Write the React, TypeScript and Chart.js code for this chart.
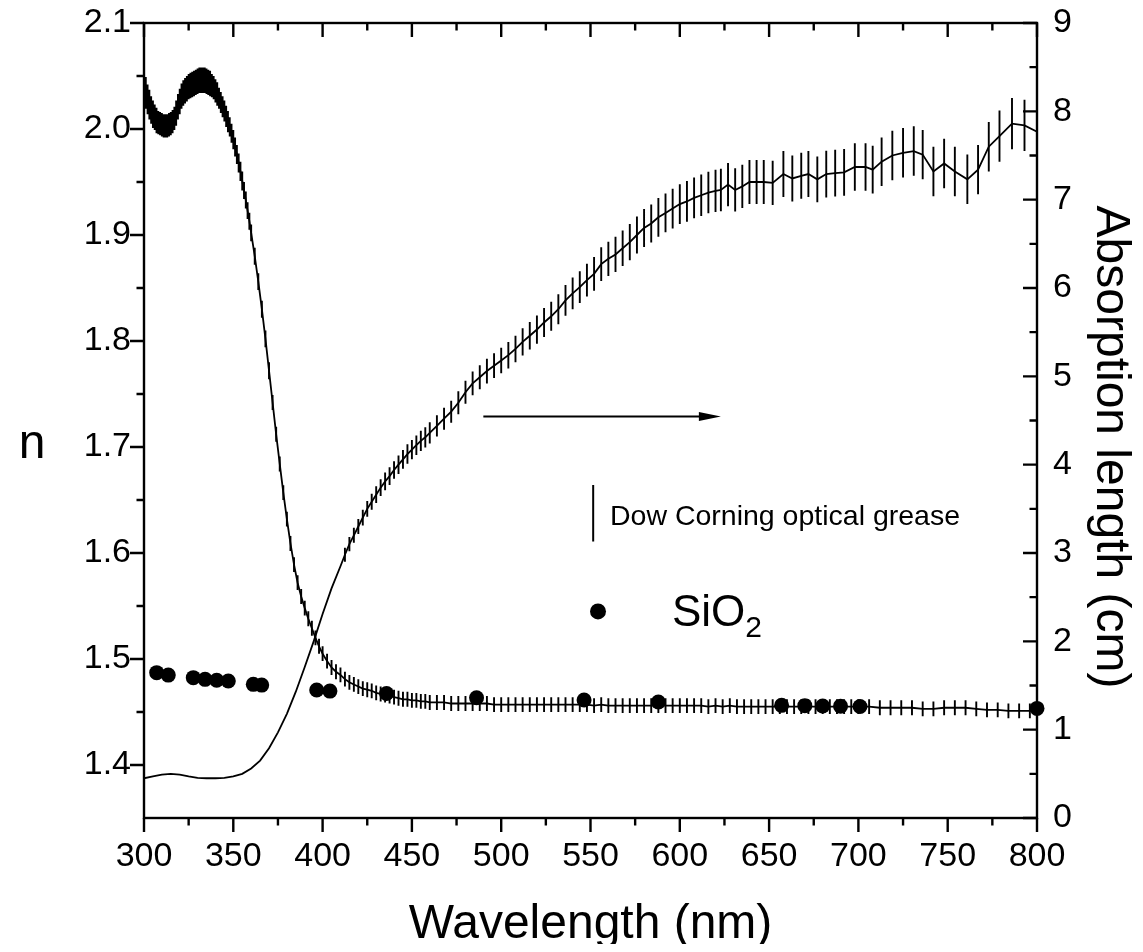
import React, { useEffect, useRef } from "react";
import { Chart, registerables } from "chart.js";

Chart.register(...registerables);

const FONT = "'Liberation Sans', Arial, Helvetica, sans-serif";

// ---------- axis ticks ----------
const xTickValues = [300, 350, 400, 450, 500, 550, 600, 650, 700, 750, 800];
const xMinorTicks = [325, 375, 425, 475, 525, 575, 625, 675, 725, 775];
const nTickValues = [1.4, 1.5, 1.6, 1.7, 1.8, 1.9, 2.0, 2.1];
const nMinorTicks = [1.45, 1.55, 1.65, 1.75, 1.85, 1.95, 2.05];
const absTickValues = [0, 1, 2, 3, 4, 5, 6, 7, 8, 9];
const absMinorTicks = [0.5, 1.5, 2.5, 3.5, 4.5, 5.5, 6.5, 7.5, 8.5];

// ---------- Dow Corning optical grease: refractive index n (left axis) ----------
const greaseNWavelength = [
  300, 301, 302, 303, 304, 305, 306, 307, 308, 309, 310, 311, 312, 313, 314, 315, 316, 317, 318, 319,
  320, 321, 322, 323, 324, 325, 326, 327, 328, 329, 330, 331, 332, 333, 334, 335, 336, 337, 338, 339,
  340, 341, 342, 343, 344, 345, 346, 347, 348, 349, 350, 351, 352, 353, 354, 355, 356, 357, 358, 359, 360,
  362, 364, 366, 368, 370, 372, 374, 376, 378, 380, 382, 384, 386, 388, 390, 392, 394, 396, 398, 400,
  402.5, 405, 407.5, 410, 412.5, 415, 417.5, 420, 422.5, 425, 427.5, 430, 432.5, 435, 437.5, 440, 442.5, 445, 447.5, 450,
  452.5, 455, 457.5, 460,
  464, 468, 472, 476, 480, 484, 488, 492, 496, 500, 504, 508, 512, 516, 520, 524, 528, 532, 536, 540,
  544, 548, 552, 556, 560, 564, 568, 572, 576, 580, 584, 588, 592, 596, 600, 604, 608, 612, 616, 620,
  624, 628, 632, 636, 640, 644, 648, 652, 656, 660, 664, 668, 672, 676, 680, 684, 688, 692, 696, 700,
  706, 712, 718, 724, 730, 736, 742, 748, 754, 760, 766, 772, 778, 784, 790, 796, 800,
];
const greaseN = [
  2.040, 2.034, 2.028, 2.023, 2.018, 2.014, 2.011, 2.008, 2.006, 2.005, 2.004, 2.003, 2.003, 2.003, 2.004, 2.005, 2.007, 2.010, 2.015, 2.021,
  2.026, 2.031, 2.034, 2.036, 2.038, 2.040, 2.041, 2.042, 2.043, 2.044, 2.045, 2.046, 2.046, 2.046, 2.046, 2.045, 2.044, 2.043, 2.041, 2.039,
  2.036, 2.033, 2.029, 2.025, 2.021, 2.017, 2.012, 2.007, 2.002, 1.996, 1.990, 1.983, 1.976, 1.968, 1.960, 1.951, 1.942, 1.933, 1.923, 1.913, 1.902,
  1.880, 1.856, 1.830, 1.802, 1.772, 1.742, 1.712, 1.684, 1.657, 1.632, 1.609, 1.589, 1.572, 1.559, 1.548, 1.538, 1.529, 1.520, 1.512, 1.505,
  1.498, 1.492, 1.488, 1.485, 1.481, 1.478, 1.476, 1.474, 1.472, 1.471, 1.470, 1.468, 1.467, 1.466, 1.465, 1.464, 1.463, 1.462, 1.462, 1.461,
  1.461, 1.460, 1.460, 1.459,
  1.459, 1.459, 1.458, 1.458, 1.458, 1.458, 1.458, 1.458, 1.457, 1.457, 1.457, 1.457, 1.457, 1.457, 1.457, 1.457, 1.457, 1.457, 1.457, 1.457,
  1.457, 1.457, 1.456, 1.457, 1.456, 1.456, 1.456, 1.456, 1.456, 1.456, 1.456, 1.456, 1.456, 1.456, 1.456, 1.456, 1.456, 1.456, 1.455, 1.456,
  1.455, 1.456, 1.455, 1.455, 1.455, 1.455, 1.455, 1.455, 1.455, 1.455, 1.455, 1.455, 1.455, 1.455, 1.455, 1.455, 1.455, 1.455, 1.455, 1.455,
  1.455, 1.454, 1.454, 1.454, 1.454, 1.453, 1.453, 1.454, 1.454, 1.454, 1.453, 1.452, 1.452, 1.451, 1.451, 1.451, 1.452,
];
const greaseNErr = [
  0.015, 0.015, 0.014, 0.014, 0.013, 0.013, 0.012, 0.012, 0.011,
  0.011, 0.011, 0.011, 0.011, 0.011, 0.011, 0.011, 0.011, 0.011,
  0.012, 0.012, 0.012, 0.012, 0.012, 0.012, 0.012, 0.012, 0.012, 0.012, 0.012, 0.012, 0.012, 0.012, 0.012, 0.012, 0.012, 0.012, 0.012, 0.012,
  0.011, 0.011, 0.011, 0.011,
  0.010, 0.010, 0.010, 0.010, 0.010, 0.010,
  0.009, 0.009, 0.009, 0.009, 0.009, 0.009, 0.009, 0.009,
  0.008, 0.008, 0.008, 0.008, 0.008,
  0.008, 0.008, 0.008, 0.008, 0.008, 0.007, 0.007, 0.007, 0.007, 0.007, 0.007, 0.007, 0.007, 0.007, 0.007, 0.007, 0.007, 0.007, 0.007, 0.007,
  0.007, 0.007, 0.007, 0.007, 0.007, 0.007, 0.007, 0.007, 0.007, 0.007, 0.007, 0.007, 0.007, 0.007, 0.007, 0.007, 0.007, 0.007, 0.007, 0.007,
  0.007, 0.007, 0.007, 0.007,
  0.007, 0.007, 0.007, 0.007, 0.007, 0.007, 0.007, 0.007, 0.007, 0.007, 0.007, 0.007, 0.007, 0.007, 0.007, 0.007, 0.007, 0.007, 0.007, 0.007,
  0.007, 0.007, 0.007, 0.007, 0.007, 0.007, 0.007, 0.007, 0.007, 0.007, 0.007, 0.007, 0.007, 0.007, 0.007, 0.007, 0.007, 0.007, 0.007, 0.007,
  0.007, 0.007, 0.007, 0.007, 0.007, 0.007, 0.007, 0.007, 0.007, 0.007, 0.007, 0.007, 0.007, 0.007, 0.007, 0.007, 0.007, 0.007, 0.007, 0.007,
  0.007, 0.007, 0.007, 0.007, 0.007, 0.007, 0.007, 0.007, 0.007, 0.007, 0.007, 0.007, 0.007, 0.007, 0.007, 0.007, 0.007,
];

// ---------- Dow Corning optical grease: absorption length in cm (right axis) ----------
const absWavelength = [
  300, 305, 310, 315, 320, 325, 330, 335, 340, 345, 350, 355, 360, 365, 370, 375, 380, 385, 390, 395, 400, 405, 410,
  412.5, 415, 417.5, 420, 422.5, 425, 427.5, 430, 432.5, 435, 437.5, 440, 442.5, 445, 447.5, 450, 452.5, 455, 457.5, 460,
  464, 468, 472, 476, 480, 484, 488, 492, 496, 500, 504, 508, 512, 516, 520, 524, 528, 532, 536, 540,
  544, 548, 552, 556, 560, 564, 568, 572, 576, 580, 584, 588, 592, 596, 600, 604, 608, 612, 616, 620,
  623, 627, 631, 635, 639, 643, 647, 652, 658, 663, 668, 672, 677, 682, 687, 692, 698, 704, 708, 713,
  719, 725, 731, 736, 742, 748, 754, 761, 767, 773, 779, 786, 793, 800,
];
const absLength = [
  0.45, 0.47, 0.49, 0.50, 0.49, 0.47, 0.455, 0.45, 0.45, 0.455, 0.47, 0.50, 0.56, 0.65, 0.79, 0.97, 1.18, 1.43, 1.71, 2.00, 2.31, 2.60, 2.85,
  2.98, 3.10, 3.20, 3.30, 3.40, 3.50, 3.58, 3.66, 3.74, 3.81, 3.87, 3.94, 4.00, 4.06, 4.12, 4.17, 4.22, 4.27, 4.31, 4.36,
  4.44, 4.52, 4.60, 4.70, 4.82, 4.92, 4.99, 5.06, 5.12, 5.18, 5.24, 5.31, 5.39, 5.46, 5.53, 5.61, 5.68, 5.76, 5.86, 5.94,
  6.01, 6.09, 6.16, 6.27, 6.33, 6.38, 6.45, 6.52, 6.60, 6.68, 6.73, 6.80, 6.85, 6.90, 6.95, 6.98, 7.02, 7.05, 7.08, 7.10,
  7.11, 7.17, 7.11, 7.15, 7.20, 7.20, 7.20, 7.19, 7.29, 7.24, 7.27, 7.29, 7.23, 7.29, 7.30, 7.31, 7.37, 7.37, 7.34, 7.43,
  7.50, 7.53, 7.55, 7.51, 7.32, 7.41, 7.32, 7.23, 7.34, 7.60, 7.72, 7.86, 7.84, 7.77,
];
const absErr = [
  0, 0, 0, 0, 0, 0, 0, 0, 0, 0, 0, 0, 0, 0, 0, 0, 0, 0, 0, 0, 0, 0, 0,
  0.08, 0.08, 0.085, 0.085, 0.09, 0.09, 0.09, 0.095, 0.095, 0.10, 0.10, 0.10, 0.105, 0.105, 0.11, 0.11, 0.11, 0.115, 0.115, 0.12,
  0.12, 0.125, 0.125, 0.13, 0.13, 0.135, 0.135, 0.14, 0.14, 0.145, 0.15, 0.15, 0.155, 0.155, 0.16, 0.165, 0.165, 0.17, 0.175, 0.18,
  0.18, 0.185, 0.19, 0.19, 0.195, 0.20, 0.20, 0.205, 0.21, 0.215, 0.215, 0.22, 0.22, 0.225, 0.225, 0.23, 0.23, 0.235, 0.235, 0.24,
  0.24, 0.245, 0.245, 0.245, 0.25, 0.25, 0.25, 0.25, 0.26, 0.26, 0.26, 0.26, 0.26, 0.265, 0.265, 0.265, 0.27, 0.27, 0.27, 0.275,
  0.28, 0.28, 0.28, 0.28, 0.28, 0.28, 0.28, 0.28, 0.28, 0.28, 0.29, 0.29, 0.29, 0.30,
];

// ---------- SiO2 refractive index (left axis) ----------
const sio2Wavelength = [307.1, 313.6, 327.6, 334.2, 340.7, 347.2, 361.2, 365.9, 396.7, 404.1, 435.8, 486.2, 546.4, 588.0, 657.0, 670.0, 680.0, 690.0, 700.9, 800.0];
const sio2N = [1.4871, 1.4848, 1.4824, 1.4808, 1.4799, 1.4792, 1.4761, 1.4754, 1.4707, 1.4697, 1.4675, 1.4635, 1.4613, 1.4594, 1.4563, 1.4560, 1.4557, 1.4555, 1.4552, 1.4534];

// ---------- annotation anchors (data coordinates) ----------
const arrowWl = [490, 623];
const arrowAbs = 4.545;
const legendLineWl = 551.5;
const legendLineAbs = [3.13, 3.77];
const legendTextWl = 560.9;
const legendTextAbs = 3.318;
const sioMarkerWl = 554.2;
const sioMarkerN = 1.5449;
const sioTextWl = 595.6;
const sioTextN = 1.5307;

const MAJOR = 14;
const MINOR = 7.5;

const errorBarPlugin = {
  id: "errorBars",
  afterDatasetDraw(chart: any, args: any) {
    const ds: any = chart.data.datasets[args.index];
    if (!ds.errorBars) return;
    const xs = chart.scales.x;
    const ys = chart.scales[ds.yAxisID];
    const a = chart.chartArea;
    const ctx = chart.ctx;
    ctx.save();
    ctx.beginPath();
    ctx.rect(a.left, a.top, a.right - a.left + 3, a.bottom - a.top);
    ctx.clip();
    ctx.strokeStyle = "#000";
    ctx.lineWidth = 1.9;
    ctx.beginPath();
    ds.data.forEach((p: any, i: number) => {
      const e = ds.errorBars[i];
      if (!e) return;
      const px = xs.getPixelForValue(p.x);
      ctx.moveTo(px, ys.getPixelForValue(p.y - e));
      ctx.lineTo(px, ys.getPixelForValue(p.y + e));
    });
    ctx.stroke();
    ctx.restore();
  },
};

const frameTicksPlugin = {
  id: "frameTicks",
  afterDraw(chart: any) {
    const ctx = chart.ctx;
    const a = chart.chartArea;
    const xs = chart.scales.x;
    const yn = chart.scales.y;
    const ya = chart.scales.y2;
    ctx.save();
    ctx.strokeStyle = "#000";
    ctx.lineWidth = 2.4;
    ctx.beginPath();
    const seg = (x0: number, y0: number, x1: number, y1: number) => {
      ctx.moveTo(x0, y0);
      ctx.lineTo(x1, y1);
    };
    xTickValues.forEach((v) => {
      const px = xs.getPixelForValue(v);
      seg(px, a.bottom, px, a.bottom + MAJOR);
      seg(px, a.top, px, a.top + MAJOR);
    });
    xMinorTicks.forEach((v) => {
      const px = xs.getPixelForValue(v);
      seg(px, a.bottom, px, a.bottom + MINOR);
      seg(px, a.top, px, a.top + MINOR);
    });
    nTickValues.forEach((v) => {
      const py = yn.getPixelForValue(v);
      seg(a.left - MAJOR, py, a.left, py);
    });
    nMinorTicks.forEach((v) => {
      const py = yn.getPixelForValue(v);
      seg(a.left - MINOR, py, a.left, py);
    });
    absTickValues.forEach((v) => {
      const py = ya.getPixelForValue(v);
      seg(a.right - MAJOR, py, a.right, py);
    });
    absMinorTicks.forEach((v) => {
      const py = ya.getPixelForValue(v);
      seg(a.right - MINOR, py, a.right, py);
    });
    ctx.stroke();
    ctx.strokeRect(a.left, a.top, a.right - a.left, a.bottom - a.top);
    ctx.restore();
  },
};

const annotationPlugin = {
  id: "annotations",
  afterDraw(chart: any) {
    const ctx = chart.ctx;
    const a = chart.chartArea;
    const xs = chart.scales.x;
    const yn = chart.scales.y;
    const ya = chart.scales.y2;
    ctx.save();
    ctx.fillStyle = "#000";
    ctx.strokeStyle = "#000";

    // arrow pointing to the right axis
    const ay = ya.getPixelForValue(arrowAbs);
    const ax0 = xs.getPixelForValue(arrowWl[0]);
    const ax1 = xs.getPixelForValue(arrowWl[1]);
    ctx.lineWidth = 2;
    ctx.beginPath();
    ctx.moveTo(ax0, ay);
    ctx.lineTo(ax1 - 10, ay);
    ctx.stroke();
    ctx.beginPath();
    ctx.moveTo(ax1, ay);
    ctx.lineTo(ax1 - 22, ay - 4.5);
    ctx.lineTo(ax1 - 22, ay + 4.5);
    ctx.closePath();
    ctx.fill();

    // legend: error-bar sample + label
    const lx = xs.getPixelForValue(legendLineWl);
    ctx.lineWidth = 2;
    ctx.beginPath();
    ctx.moveTo(lx, ya.getPixelForValue(legendLineAbs[0]));
    ctx.lineTo(lx, ya.getPixelForValue(legendLineAbs[1]));
    ctx.stroke();
    ctx.font = `28.5px ${FONT}`;
    ctx.textAlign = "left";
    ctx.textBaseline = "alphabetic";
    ctx.fillText("Dow Corning optical grease", xs.getPixelForValue(legendTextWl), ya.getPixelForValue(legendTextAbs));

    // legend: SiO2 marker + label
    ctx.beginPath();
    ctx.arc(xs.getPixelForValue(sioMarkerWl), yn.getPixelForValue(sioMarkerN), 8, 0, Math.PI * 2);
    ctx.fill();
    const sx = xs.getPixelForValue(sioTextWl);
    const sy = yn.getPixelForValue(sioTextN);
    ctx.font = `44px ${FONT}`;
    ctx.fillText("SiO", sx, sy);
    const w = ctx.measureText("SiO").width;
    ctx.font = `30px ${FONT}`;
    ctx.fillText("2", sx + w, sy + 11);

    // axis titles
    ctx.font = `48px ${FONT}`;
    ctx.textAlign = "center";
    ctx.fillText("Wavelength (nm)", (a.left + a.right) / 2, 930);
    ctx.fillText("n", 24, 450);
    ctx.translate(1089, 439);
    ctx.rotate(Math.PI / 2);
    ctx.fillText("Absorption length (cm)", 0, 0);
    ctx.restore();
  },
};

export default function App() {
  const ref = useRef<HTMLCanvasElement | null>(null);

  useEffect(() => {
    if (!ref.current) return;
    const tickFont = { family: FONT, size: 34 };
    const zeroPad = (s: any) => {
      s.paddingTop = 0;
      s.paddingBottom = 0;
      s.paddingLeft = 0;
      s.paddingRight = 0;
    };
    const chart = new Chart(ref.current, {
      type: "line",
      data: {
        datasets: [
          {
            type: "scatter",
            label: "SiO2",
            data: sio2Wavelength.map((x, i) => ({ x, y: sio2N[i] })),
            yAxisID: "y",
            backgroundColor: "#000",
            borderColor: "#000",
            borderWidth: 0,
            pointRadius: 7.5,
            showLine: false,
            clip: false,
            order: 0,
          } as any,
          {
            type: "line",
            label: "n grease",
            data: greaseNWavelength.map((x, i) => ({ x, y: greaseN[i] })),
            errorBars: greaseNErr,
            yAxisID: "y",
            borderColor: "#000",
            borderWidth: 1.8,
            pointRadius: 0,
            tension: 0,
            fill: false,
            order: 1,
          } as any,
          {
            type: "line",
            label: "absorption",
            data: absWavelength.map((x, i) => ({ x, y: absLength[i] })),
            errorBars: absErr,
            yAxisID: "y2",
            borderColor: "#000",
            borderWidth: 1.8,
            pointRadius: 0,
            tension: 0,
            fill: false,
            order: 2,
          } as any,
        ],
      },
      options: {
        animation: false,
        responsive: false,
        devicePixelRatio: 1,
        layout: { padding: { top: 15, left: 0, right: 0, bottom: 0 } },
        plugins: { legend: { display: false }, tooltip: { enabled: false } },
        scales: {
          x: {
            type: "linear",
            position: "bottom",
            min: 300,
            max: 800,
            grid: { display: false, drawTicks: false },
            border: { display: false },
            ticks: {
              font: tickFont,
              color: "#000",
              padding: 18,
              autoSkip: false,
              maxRotation: 0,
              callback: (v: any) => String(v),
            },
            afterBuildTicks: (s: any) => {
              s.ticks = xTickValues.map((v) => ({ value: v }));
            },
            afterFit: (s: any) => {
              s.height = 126;
              zeroPad(s);
            },
          },
          y: {
            type: "linear",
            position: "left",
            min: 1.35,
            max: 2.1,
            grid: { display: false, drawTicks: false },
            border: { display: false },
            ticks: {
              font: tickFont,
              color: "#000",
              padding: 13,
              autoSkip: false,
              callback: (v: any) => Number(v).toFixed(1),
            },
            afterBuildTicks: (s: any) => {
              s.ticks = nTickValues.map((v) => ({ value: v }));
            },
            afterFit: (s: any) => {
              s.width = 136;
              zeroPad(s);
            },
          },
          y2: {
            type: "linear",
            position: "right",
            min: 0,
            max: 9,
            grid: { display: false, drawTicks: false },
            border: { display: false },
            ticks: {
              font: tickFont,
              color: "#000",
              padding: 16,
              autoSkip: false,
              callback: (v: any) => String(v),
            },
            afterBuildTicks: (s: any) => {
              s.ticks = absTickValues.map((v) => ({ value: v }));
            },
            afterFit: (s: any) => {
              s.width = 98;
              zeroPad(s);
            },
          },
        },
      } as any,
      plugins: [errorBarPlugin, frameTicksPlugin, annotationPlugin],
    });
    return () => chart.destroy();
  }, []);

  return (
    <div style={{ width: 1127, height: 936 }}>
      <canvas ref={ref} width={1127} height={936} style={{ display: "block" }} />
    </div>
  );
}
